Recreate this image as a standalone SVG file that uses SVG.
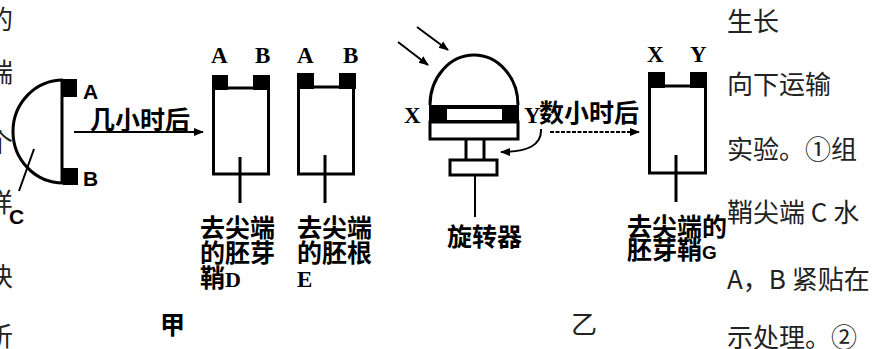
<svg xmlns="http://www.w3.org/2000/svg" width="885" height="349" viewBox="0 0 885 349">
<defs>
<style>
.ln{fill:none;stroke:#000;stroke-width:3}
.thin{fill:none;stroke:#000;stroke-width:2}
.blk{fill:#000}
.cjk{font-family:"Noto Sans CJK SC","Noto Sans",sans-serif;font-weight:bold;font-size:25px;fill:#000}
.side{font-family:"Noto Sans CJK SC","Noto Sans",sans-serif;font-weight:normal;font-size:26px;fill:#222}
.lbl{font-family:"Liberation Serif",serif;font-weight:bold;font-size:23px;fill:#000}
.lbls{font-family:"Liberation Sans",sans-serif;font-weight:bold;font-size:21px;fill:#000}
</style>
<marker id="ah" viewBox="0 0 10 10" refX="9" refY="5" markerWidth="10" markerHeight="10" markerUnits="userSpaceOnUse" orient="auto">
<path d="M0,1 L10,5 L0,9 Z" fill="#000"/>
</marker>
</defs>
<rect width="885" height="349" fill="#fff"/>

<g id="left-text">
<text class="side" x="-13" y="29">的</text>
<text class="side" x="-13" y="82">端</text>
<text class="side" x="-13" y="152">个</text>
<text class="side" x="-13" y="212">样</text>
<text class="side" x="-13" y="286">块</text>
<text class="side" x="-13" y="346">析</text>
</g>

<g id="right-text">
<text class="side" x="727" y="31">生长</text>
<text class="side" x="727" y="94">向下运输</text>
<text class="side" x="727" y="159">实验。①组</text>
<text class="side" x="727" y="222">鞘尖端 C 水</text>
<text class="side" x="727" y="289">A，B 紧贴在</text>
<text class="side" x="727" y="347">示处理。②</text>
</g>

<g id="tip-C">
<path class="ln" d="M63,80 A50,51.5 0 0 0 63,183" stroke-width="2.5"/>
<line class="ln" x1="62" y1="80" x2="62" y2="184"/>
<rect class="blk" x="63" y="79" width="14" height="18"/>
<rect class="blk" x="63" y="168" width="15" height="17"/>
<line class="thin" x1="34" y1="149" x2="19" y2="191"/>
<text class="lbls" x="83" y="99">A</text>
<text class="lbls" x="83" y="186">B</text>
<text class="lbls" x="9" y="224" font-size="23">C</text>
</g>

<g id="box-D">
<rect class="ln" x="213.5" y="88" width="55" height="86"/>
<rect class="blk" x="212" y="75" width="16" height="15"/>
<rect class="blk" x="253" y="75" width="17" height="15"/>
<line class="ln" x1="240" y1="157" x2="240" y2="203"/>
<text class="lbl" x="211" y="63">A</text>
<text class="lbl" x="255" y="63">B</text>
<text class="cjk" x="200" y="237">去尖端</text>
<text class="cjk" x="200" y="262">的胚芽</text>
<text class="cjk" x="200" y="287">鞘<tspan font-family="Liberation Serif,serif" font-size="22">D</tspan></text>
</g>

<g id="box-E">
<rect class="ln" x="298.5" y="87" width="55" height="87"/>
<rect class="blk" x="297" y="73" width="17" height="16"/>
<rect class="blk" x="339" y="73" width="17" height="16"/>
<line class="ln" x1="325" y1="155" x2="325" y2="203"/>
<text class="lbl" x="297" y="63">A</text>
<text class="lbl" x="343" y="63">B</text>
<text class="cjk" x="297" y="237">去尖端</text>
<text class="cjk" x="297" y="262">的胚根</text>
<text class="lbl" x="297" y="287" font-size="22">E</text>
</g>

<g id="rotator">
<path class="ln" d="M430,105 A44,50 0 0 1 518,105" stroke-width="2.5"/>
<rect class="blk" x="429" y="105" width="90" height="17"/>
<rect x="447" y="109" width="55" height="11" fill="#fff"/>
<rect class="ln" x="430" y="122" width="88" height="17" stroke-width="2.5"/>
<line class="ln" x1="466" y1="139" x2="466" y2="160" stroke-width="2.5"/>
<line class="ln" x1="484" y1="139" x2="484" y2="160" stroke-width="2.5"/>
<rect class="ln" x="450" y="160" width="47" height="15" stroke-width="2.5"/>
<line class="thin" x1="475" y1="175" x2="475" y2="217"/>
<text class="lbl" x="404" y="123">X</text>
<text class="cjk" x="447" y="246">旋转器</text>
</g>

<g id="box-G">
<rect class="ln" x="649.5" y="86" width="56" height="87"/>
<rect class="blk" x="648" y="72" width="17" height="16"/>
<rect class="blk" x="690" y="72" width="17" height="16"/>
<line class="ln" x1="676" y1="155" x2="676" y2="202"/>
<text class="lbl" x="647" y="62">X</text>
<text class="lbl" x="690" y="62">Y</text>
<text class="cjk" x="627" y="236" font-size="24">去尖端的</text>
<text class="cjk" x="627" y="259" font-size="24">胚芽鞘<tspan font-family="Liberation Sans,sans-serif" font-size="19">G</tspan></text>
</g>

<g id="connectors">
<line class="thin" x1="74" y1="132" x2="203" y2="132" stroke-width="2.5" marker-end="url(#ah)"/>
<text class="cjk" x="90" y="129">几小时后</text>
<line class="thin" x1="398" y1="42" x2="428" y2="65" marker-end="url(#ah)"/>
<line class="thin" x1="417" y1="27" x2="448" y2="50" marker-end="url(#ah)"/>
<text class="lbl" x="524" y="123">Y</text>
<text class="cjk" x="539" y="122">数小时后</text>
<line class="thin" x1="550" y1="132" x2="639" y2="132" stroke-width="2.5" stroke-dasharray="4,1.5" marker-end="url(#ah)"/>
<path class="thin" d="M541,129 C542,145 528,152 501,152" marker-end="url(#ah)"/>
</g>

<g id="captions">
<text class="cjk" x="160" y="334" font-size="22">甲</text>
<text class="side" x="571" y="334" font-size="22" fill="#000">乙</text>
</g>
</svg>
